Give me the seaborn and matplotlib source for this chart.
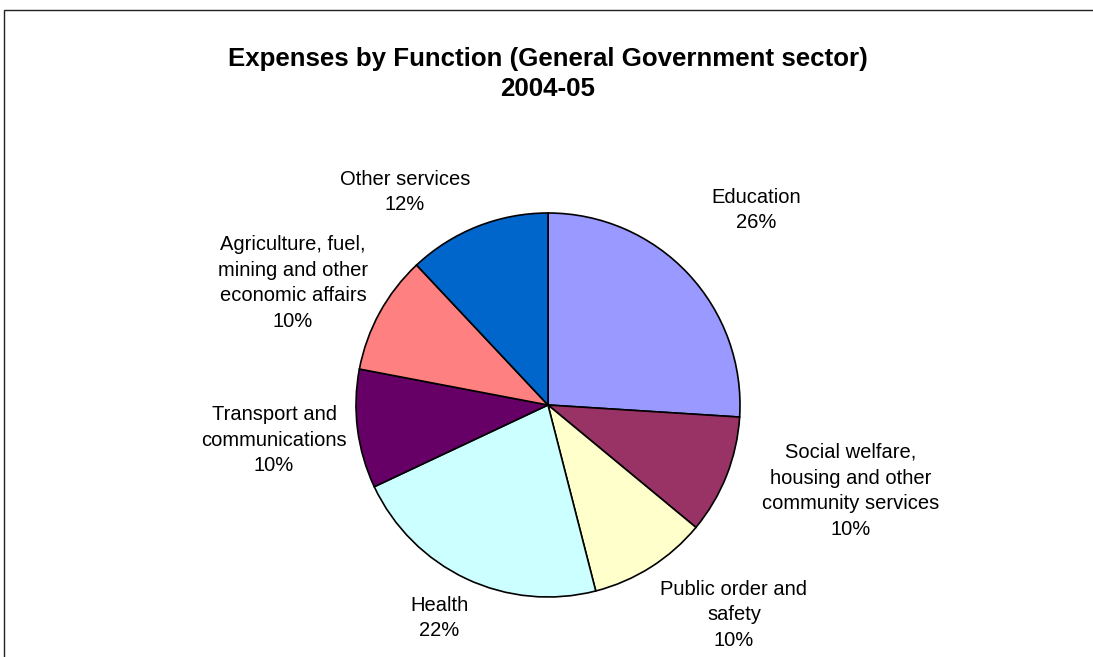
import matplotlib
matplotlib.use("Agg")
import matplotlib.pyplot as plt
import matplotlib.patches as mpatches
import seaborn as sns

sns.set_theme(style="white")
plt.rcParams["font.family"] = ["Liberation Sans", "DejaVu Sans"]
plt.rcParams["text.color"] = "black"

# Expense shares by function, clockwise from 12 o'clock
categories = [
    "Education",
    "Social welfare,\nhousing and other\ncommunity services",
    "Public order and\nsafety",
    "Health",
    "Transport and\ncommunications",
    "Agriculture, fuel,\nmining and other\neconomic affairs",
    "Other services",
]
shares = [26, 10, 10, 22, 10, 10, 12]
colors = ["#9999FF", "#993366", "#FFFFCC", "#CCFFFF", "#660066", "#FF8080", "#0066CC"]

# label anchor points (pixels from the left / top of the figure)
label_px = [(756, 210), (851, 491), (734, 615), (439, 618), (274, 440), (293, 283), (405, 192)]

W, H = 1093, 657
CX, CY, R = 548, 405, 192

fig = plt.figure(figsize=(W / 100, H / 100), dpi=100)
ax = fig.add_axes([0, 0, 1, 1])

ax.pie(
    shares,
    colors=colors,
    startangle=90,
    counterclock=False,
    radius=1.0,
    wedgeprops=dict(edgecolor="black", linewidth=1.2),
)

for name, val, (px, py) in zip(categories, shares, label_px):
    ax.text((px - CX) / R, (CY - py) / R, f"{name}\n{val}%",
            ha="center", va="center", fontsize=14.5, color="black",
            linespacing=1.45)

ax.set_xlim(-CX / R, (W - CX) / R)
ax.set_ylim((CY - H) / R, CY / R)
ax.set_aspect("auto")
ax.axis("off")

fig.text(CX / W, 1 - 59 / H, "Expenses by Function (General Government sector)",
         ha="center", va="center", fontsize=18.6, fontweight="bold", color="black")
fig.text(CX / W, 1 - 89 / H, "2004-05",
         ha="center", va="center", fontsize=18.6, fontweight="bold", color="black")

# chart area frame
frame = mpatches.Rectangle((4 / W, -0.1), 1.2, 1.1 - 10 / H,
                           transform=fig.transFigure, fill=False,
                           edgecolor="#222222", linewidth=1.0)
fig.patches.append(frame)

fig.savefig("out.png", dpi=100, facecolor="white")
